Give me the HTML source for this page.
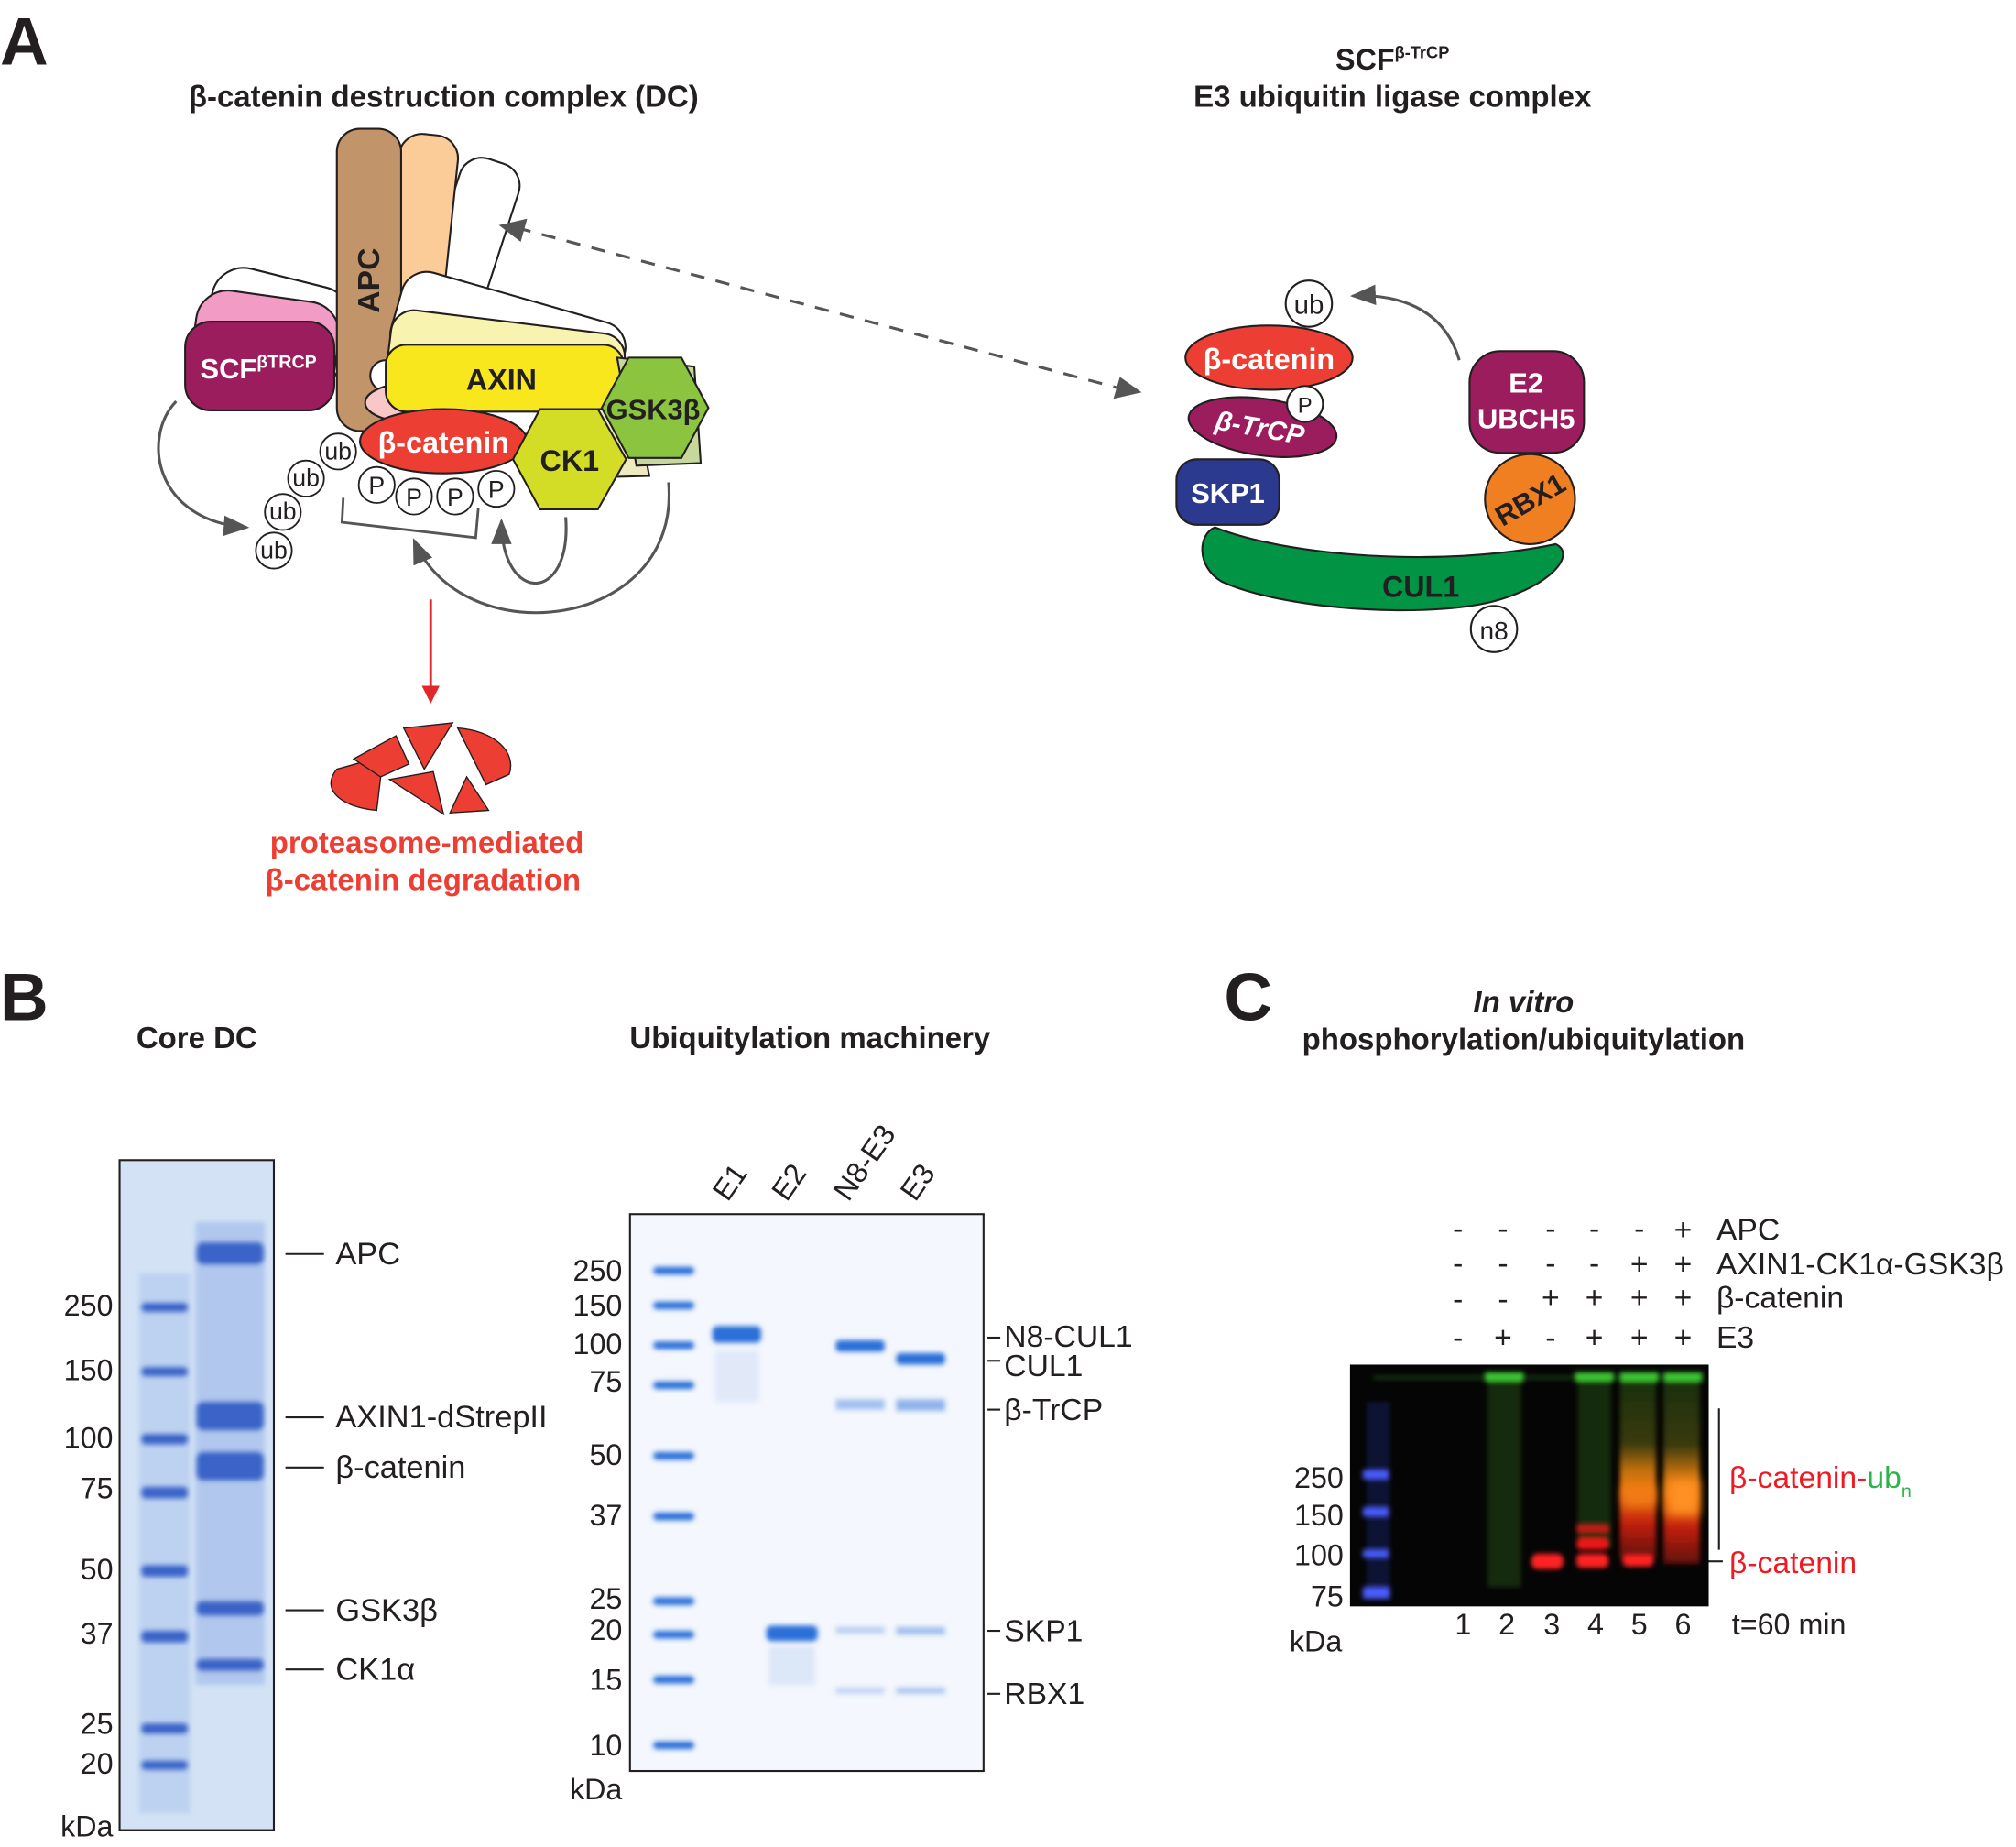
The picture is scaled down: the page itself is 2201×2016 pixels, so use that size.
<!DOCTYPE html>
<html><head><meta charset="utf-8">
<style>
html,body{margin:0;padding:0;background:#fff;}
svg{display:block;}
text{font-family:"Liberation Sans",Arial,sans-serif;}
</style></head>
<body>
<svg width="2201" height="2016" viewBox="0 0 1568 1436" xmlns="http://www.w3.org/2000/svg">
<defs>
<filter id="b1" x="-50%" y="-100%" width="200%" height="300%"><feGaussianBlur stdDeviation="1.8"/></filter>
<filter id="b2" x="-50%" y="-50%" width="200%" height="200%"><feGaussianBlur stdDeviation="4"/></filter>
<marker id="ahs" markerWidth="20" markerHeight="16" refX="18" refY="8" orient="auto" markerUnits="userSpaceOnUse"><path d="M0,0 L20,8 L0,16 z" fill="#555"/></marker>
<marker id="ahr" markerWidth="14" markerHeight="14" refX="12" refY="7" orient="auto" markerUnits="userSpaceOnUse"><path d="M0,0 L14,7 L0,14 z" fill="#e3262b"/></marker>
<linearGradient id="l5" x1="0" y1="0" x2="0" y2="1">
<stop offset="0" stop-color="#1a3010"/><stop offset="0.35" stop-color="#3a3a10"/><stop offset="0.5" stop-color="#c07010"/><stop offset="0.62" stop-color="#f07a10"/><stop offset="0.8" stop-color="#c02010"/><stop offset="1" stop-color="#601010"/></linearGradient>
</defs>
<rect width="1568" height="1436" fill="#fff"/>

<!-- ===== Panel A ===== -->
<text x="0" y="50" font-size="52" font-weight="bold" fill="#231f20">A</text>
<text x="345" y="83" font-size="23.5" font-weight="bold" text-anchor="middle" fill="#231f20">β-catenin destruction complex (DC)</text>
<text x="1083" y="54" font-size="23" font-weight="bold" text-anchor="middle" fill="#231f20">SCF<tspan font-size="13" dy="-9">β-TrCP</tspan></text>
<text x="1083" y="83" font-size="23.5" font-weight="bold" text-anchor="middle" fill="#231f20">E3 ubiquitin ligase complex</text>

<g stroke="#231f20" stroke-width="1.5">
<rect x="328" y="120" width="48" height="220" rx="18" fill="#fff" transform="rotate(18 352 230)"/>
<rect x="300" y="104" width="46" height="230" rx="18" fill="#fccc98" transform="rotate(6 323 220)"/>
<rect x="160" y="215" width="110" height="80" rx="25" fill="#fff" transform="rotate(14 215 255)"/>
<rect x="150" y="230" width="112" height="80" rx="25" fill="#f29bc4" transform="rotate(8 206 270)"/>
<rect x="262" y="100" width="50" height="235" rx="18" fill="#c19469"/>
<rect x="144" y="250" width="116" height="69" rx="20" fill="#9c1d5e"/>
<rect x="305" y="230" width="180" height="70" rx="20" fill="#fff" transform="rotate(16 395 265)"/>
<rect x="302" y="250" width="183" height="60" rx="18" fill="#f9f3b0" transform="rotate(7 393 280)"/>
<ellipse cx="300" cy="292" rx="12" ry="12" fill="#fff"/>
<ellipse cx="318" cy="313" rx="34" ry="15" fill="#f8c8c8"/>
<rect x="300" y="268" width="185" height="52" rx="16" fill="#f8e71c"/>
<polygon points="420,318 495,318 505,370 430,372" fill="#eeeac0"/>
<polygon points="480,278 540,285 545,360 495,362" fill="#c8d89a"/>
<ellipse cx="345" cy="343" rx="65" ry="25" fill="#ed3e33"/>
<polygon points="420,318 465,318 487,357 465,396 420,396 399,357" fill="#d4dd25"/>
<polygon points="489,278 530,278 551,317 530,356 489,356 468,317" fill="#8bc53f"/>
</g>
<text x="287" y="218" font-size="24" font-weight="bold" fill="#231f20" text-anchor="middle" transform="rotate(-90 287 218)" dy="8">APC</text>
<text x="201" y="294" font-size="22" font-weight="bold" fill="#fff" text-anchor="middle">SCF<tspan font-size="14" dy="-8">βTRCP</tspan></text>
<text x="390" y="303" font-size="23" font-weight="bold" fill="#231f20" text-anchor="middle">AXIN</text>
<text x="345" y="352" font-size="23" font-weight="bold" fill="#fff" text-anchor="middle">β-catenin</text>
<text x="443" y="366" font-size="23" font-weight="bold" fill="#231f20" text-anchor="middle">CK1</text>
<text x="508" y="326" font-size="22" font-weight="bold" fill="#231f20" text-anchor="middle">GSK3β</text>
<g stroke="#231f20" stroke-width="1.3" fill="#fff">
<circle cx="293" cy="377" r="14"/><circle cx="322" cy="386" r="14"/><circle cx="354" cy="386" r="14"/><circle cx="386" cy="380" r="14"/>
<circle cx="263" cy="351" r="14"/><circle cx="238" cy="372" r="14"/><circle cx="220" cy="398" r="14"/><circle cx="213" cy="428" r="14"/>
</g>
<g font-size="19" fill="#231f20" text-anchor="middle">
<text x="293" y="384">P</text><text x="322" y="393">P</text><text x="354" y="393">P</text><text x="386" y="387">P</text>
<text x="263" y="357">ub</text><text x="238" y="378">ub</text><text x="220" y="404">ub</text><text x="213" y="434">ub</text>
</g>
<path d="M267,387 L266,406 L370,418 L372,395" fill="none" stroke="#555" stroke-width="2"/>
<g fill="none" stroke="#555" stroke-width="2.2">
<path d="M137,312 C110,340 120,405 192,410" marker-end="url(#ahs)"/>
<path d="M440,402 C445,470 390,470 390,405" marker-end="url(#ahs)"/>
<path d="M520,375 C530,490 360,510 322,420" marker-end="url(#ahs)"/>
<path d="M1135,280 C1125,245 1095,228 1052,230" marker-end="url(#ahs)"/>
<path d="M402,177 L875,303" stroke-dasharray="11,9"/>
</g>
<path d="M388,175 L410,170 L405,188 z" fill="#555"/>
<path d="M888,305 L866,310 L871,293 z" fill="#555"/>
<line x1="335" y1="466" x2="335" y2="545" stroke="#e3262b" stroke-width="2" marker-end="url(#ahr)"/>
<g fill="#ed3e33" stroke="#231f20" stroke-width="1">
<path d="M262,598 L298,588 L293,630 C268,628 248,615 262,598z"/>
<path d="M275,590 L308,572 L318,594 L296,604 z"/>
<path d="M314,566 L352,562 L330,598 z"/>
<path d="M356,566 C385,568 402,585 396,602 L378,610 z"/>
<path d="M303,606 L337,600 L345,633 z"/>
<path d="M350,632 L363,604 L380,630 z"/>
</g>
<text x="332" y="663" font-size="23.5" font-weight="bold" fill="#ed3e33" text-anchor="middle">proteasome-mediated</text>
<text x="329" y="692" font-size="23.5" font-weight="bold" fill="#ed3e33" text-anchor="middle">β-catenin degradation</text>

<g stroke="#231f20" stroke-width="1.5">
<path d="M945,410 C1000,432 1120,442 1210,423 C1225,430 1210,452 1170,465 C1120,482 1000,475 950,452 C930,440 932,415 945,410z" fill="#009444"/>
<rect x="1143" y="273" width="89" height="79" rx="24" fill="#9c1d5e"/>
<circle cx="1190" cy="388" r="35" fill="#f07f22"/>
<rect x="915" y="357" width="80" height="51" rx="16" fill="#2b3a8f"/>
<ellipse cx="982" cy="332" rx="58" ry="22" fill="#9c1d5e" transform="rotate(8 982 332)"/>
<ellipse cx="987" cy="278" rx="65" ry="25" fill="#ed3e33"/>
<circle cx="1015" cy="314" r="14" fill="#fff"/>
<circle cx="1018" cy="236" r="18" fill="#fff"/>
<circle cx="1162" cy="489" r="18" fill="#fff"/>
</g>
<text x="987" y="287" font-size="23" font-weight="bold" fill="#fff" text-anchor="middle">β-catenin</text>
<text x="980" y="340" font-size="21" font-weight="bold" font-style="italic" fill="#fff" text-anchor="middle" transform="rotate(10 982 332)">β-TrCP</text>
<text x="1015" y="321" font-size="17" fill="#231f20" text-anchor="middle">P</text>
<text x="1018" y="244" font-size="21" fill="#231f20" text-anchor="middle">ub</text>
<text x="955" y="391" font-size="22" font-weight="bold" fill="#fff" text-anchor="middle">SKP1</text>
<text x="1187" y="305" font-size="22" font-weight="bold" fill="#fff" text-anchor="middle">E2</text>
<text x="1187" y="333" font-size="22" font-weight="bold" fill="#fff" text-anchor="middle">UBCH5</text>
<text x="1190" y="396" font-size="22" font-weight="bold" fill="#231f20" text-anchor="middle" transform="rotate(-30 1190 388)">RBX1</text>
<text x="1105" y="464" font-size="23" font-weight="bold" fill="#231f20" text-anchor="middle">CUL1</text>
<text x="1162" y="497" font-size="20" fill="#231f20" text-anchor="middle">n8</text>

<!-- ===== Panel B ===== -->
<text x="0" y="793" font-size="52" font-weight="bold" fill="#231f20">B</text>
<text x="153" y="815" font-size="23.5" font-weight="bold" fill="#231f20" text-anchor="middle">Core DC</text>
<text x="630" y="815" font-size="23.5" font-weight="bold" fill="#231f20" text-anchor="middle">Ubiquitylation machinery</text>

<rect x="93" y="902" width="120" height="521" fill="#d3e3f5" stroke="#231f20" stroke-width="1.5"/>
<rect x="108" y="990" width="40" height="420" fill="#b5cbee" opacity="0.7" filter="url(#b1)"/>
<rect x="152" y="950" width="54" height="360" fill="#a9c1ec" opacity="0.8" filter="url(#b1)"/>
<g fill="#3a63c8" filter="url(#b1)">
<rect x="110" y="1013" width="36" height="7" rx="3"/>
<rect x="110" y="1063" width="36" height="7" rx="3"/>
<rect x="110" y="1115" width="36" height="8" rx="3"/>
<rect x="110" y="1156" width="36" height="9" rx="3"/>
<rect x="110" y="1217" width="36" height="9" rx="3"/><rect x="110" y="1268" width="36" height="9" rx="3"/>
<rect x="110" y="1340" width="36" height="8" rx="3"/><rect x="110" y="1369" width="36" height="7" rx="3"/>
<rect x="153" y="966" width="52" height="17" rx="5"/>
<rect x="153" y="1090" width="52" height="22" rx="5"/>
<rect x="153" y="1129" width="52" height="22" rx="5"/>
<rect x="153" y="1245" width="52" height="11" rx="4"/>
<rect x="153" y="1290" width="52" height="9" rx="4"/>
</g>
<g font-size="23" fill="#231f20" text-anchor="end">
<text x="88" y="1023">250</text><text x="88" y="1073">150</text><text x="88" y="1126">100</text><text x="88" y="1165">75</text>
<text x="88" y="1228">50</text><text x="88" y="1278">37</text><text x="88" y="1348">25</text><text x="88" y="1379">20</text><text x="88" y="1428">kDa</text>
</g>
<g stroke="#231f20" stroke-width="1.5">
<line x1="222" y1="975" x2="252" y2="975"/><line x1="222" y1="1102" x2="252" y2="1102"/><line x1="222" y1="1141" x2="252" y2="1141"/>
<line x1="222" y1="1252" x2="252" y2="1252"/><line x1="222" y1="1298" x2="252" y2="1298"/>
</g>
<g font-size="24.5" fill="#231f20">
<text x="261" y="983">APC</text><text x="261" y="1110">AXIN1-dStrepII</text><text x="261" y="1149">β-catenin</text>
<text x="261" y="1260">GSK3β</text><text x="261" y="1306">CK1α</text>
</g>

<rect x="490" y="944" width="275" height="433" fill="#f4f7fd" stroke="#231f20" stroke-width="1.5"/>
<g fill="#2b6fd8" filter="url(#b1)">
<rect x="508" y="985" width="32" height="6" rx="3"/><rect x="508" y="1012" width="32" height="6" rx="3"/>
<rect x="508" y="1043" width="32" height="6" rx="3"/><rect x="508" y="1074" width="32" height="6" rx="3"/>
<rect x="508" y="1129" width="32" height="6" rx="3"/><rect x="508" y="1176" width="32" height="6" rx="3"/>
<rect x="508" y="1242" width="32" height="6" rx="3"/><rect x="508" y="1268" width="32" height="6" rx="3"/>
<rect x="508" y="1303" width="32" height="6" rx="3"/><rect x="508" y="1354" width="32" height="6" rx="3"/>
<rect x="554" y="1031" width="38" height="13" rx="4"/>
<rect x="556" y="1050" width="34" height="40" opacity="0.1"/>
<rect x="596" y="1264" width="40" height="12" rx="4"/>
<rect x="598" y="1280" width="36" height="30" opacity="0.12"/>
<rect x="650" y="1042" width="38" height="9" rx="3"/><rect x="650" y="1088" width="38" height="8" opacity="0.4"/>
<rect x="650" y="1265" width="38" height="5" opacity="0.3"/><rect x="650" y="1312" width="38" height="5" opacity="0.25"/>
<rect x="697" y="1052" width="38" height="9" rx="3"/><rect x="697" y="1088" width="38" height="9" opacity="0.5"/>
<rect x="697" y="1265" width="38" height="6" opacity="0.4"/><rect x="697" y="1312" width="38" height="5" opacity="0.35"/>
</g>
<g font-size="23" fill="#231f20" text-anchor="end">
<text x="484" y="996">250</text><text x="484" y="1023">150</text><text x="484" y="1053">100</text><text x="484" y="1082">75</text>
<text x="484" y="1139">50</text><text x="484" y="1186">37</text><text x="484" y="1251">25</text><text x="484" y="1275">20</text>
<text x="484" y="1314">15</text><text x="484" y="1365">10</text><text x="484" y="1399">kDa</text>
</g>
<g font-size="23" fill="#231f20">
<text x="566" y="935" transform="rotate(-55 566 935)">E1</text>
<text x="612" y="935" transform="rotate(-55 612 935)">E2</text>
<text x="660" y="935" transform="rotate(-55 660 935)">N8-E3</text>
<text x="712" y="935" transform="rotate(-55 712 935)">E3</text>
</g>
<g stroke="#231f20" stroke-width="1.5">
<line x1="768" y1="1040" x2="778" y2="1040"/><line x1="768" y1="1058" x2="778" y2="1058"/><line x1="768" y1="1096" x2="778" y2="1096"/>
<line x1="768" y1="1268" x2="778" y2="1268"/><line x1="768" y1="1317" x2="778" y2="1317"/>
</g>
<g font-size="24" fill="#231f20">
<text x="781" y="1047">N8-CUL1</text><text x="781" y="1070">CUL1</text><text x="781" y="1104">β-TrCP</text>
<text x="781" y="1276">SKP1</text><text x="781" y="1325">RBX1</text>
</g>

<!-- ===== Panel C ===== -->
<text x="952" y="793" font-size="52" font-weight="bold" fill="#231f20">C</text>
<text x="1185" y="787" font-size="23.5" font-weight="bold" font-style="italic" fill="#231f20" text-anchor="middle">In vitro</text>
<text x="1185" y="816" font-size="23.5" font-weight="bold" fill="#231f20" text-anchor="middle">phosphorylation/ubiquitylation</text>
<g font-size="24" fill="#231f20" text-anchor="middle">
<text x="1134" y="963">-</text><text x="1169" y="963">-</text><text x="1206" y="963">-</text><text x="1240" y="963">-</text><text x="1275" y="963">-</text><text x="1309" y="964">+</text>
<text x="1134" y="990">-</text><text x="1169" y="990">-</text><text x="1206" y="990">-</text><text x="1240" y="990">-</text><text x="1275" y="991">+</text><text x="1309" y="991">+</text>
<text x="1134" y="1018">-</text><text x="1169" y="1018">-</text><text x="1206" y="1017">+</text><text x="1240" y="1017">+</text><text x="1275" y="1017">+</text><text x="1309" y="1017">+</text>
<text x="1134" y="1048">-</text><text x="1169" y="1048">+</text><text x="1206" y="1048">-</text><text x="1240" y="1048">+</text><text x="1275" y="1048">+</text><text x="1309" y="1048">+</text>
</g>
<g font-size="24" fill="#231f20">
<text x="1335" y="964">APC</text><text x="1335" y="991">AXIN1-CK1α-GSK3β</text>
<text x="1335" y="1017">β-catenin</text><text x="1335" y="1048">E3</text>
</g>
<rect x="1050" y="1061" width="279" height="188" fill="#050505"/>
<g filter="url(#b1)">
<rect x="1068" y="1070" width="255" height="2" fill="#2a7a20" opacity="0.6"/>
<rect x="1155" y="1067" width="30" height="7" fill="#3ec830"/>
<rect x="1157" y="1074" width="26" height="160" fill="#16320f" opacity="0.8"/>
<rect x="1225" y="1067" width="30" height="7" fill="#3ec830"/>
<rect x="1227" y="1074" width="26" height="130" fill="#16320f" opacity="0.8"/>
<rect x="1260" y="1067" width="30" height="7" fill="#3ec830"/>
<rect x="1294" y="1067" width="30" height="7" fill="#3ec830"/>
<rect x="1063" y="1090" width="18" height="150" fill="#1a2260" opacity="0.5"/>
<rect x="1060" y="1143" width="20" height="7" fill="#4a5cff"/>
<rect x="1060" y="1172" width="20" height="7" fill="#4a5cff"/>
<rect x="1060" y="1205" width="20" height="6" fill="#4a5cff"/>
<rect x="1060" y="1234" width="21" height="9" fill="#4a5cff"/>
<rect x="1191" y="1208" width="25" height="12" rx="5" fill="#ff2020"/>
<rect x="1226" y="1208" width="25" height="11" rx="4" fill="#ff2020"/>
<rect x="1226" y="1196" width="25" height="9" rx="4" fill="#ee1818"/>
<rect x="1226" y="1186" width="25" height="5" fill="#d01818"/>
<rect x="1260" y="1074" width="28" height="138" fill="url(#l5)"/>
<rect x="1294" y="1074" width="28" height="142" fill="url(#l5)"/>
<rect x="1262" y="1209" width="24" height="9" rx="4" fill="#ff2020"/>
</g>
<rect x="1263" y="1155" width="24" height="16" fill="#f07a18" filter="url(#b2)"/>
<rect x="1297" y="1150" width="24" height="28" fill="#ff9020" filter="url(#b2)"/>
<line x1="1337" y1="1095" x2="1337" y2="1205" stroke="#231f20" stroke-width="1.5"/>
<line x1="1329" y1="1214" x2="1340" y2="1214" stroke="#231f20" stroke-width="1.5"/>
<text x="1345" y="1157" font-size="24" fill="#ed1c24">β-catenin-<tspan fill="#2db34a">ub</tspan><tspan fill="#2db34a" font-size="14" dy="7">n</tspan></text>
<text x="1345" y="1223" font-size="24" fill="#ed1c24">β-catenin</text>
<g font-size="23" fill="#231f20" text-anchor="end">
<text x="1045" y="1157">250</text><text x="1045" y="1186">150</text><text x="1045" y="1217">100</text><text x="1045" y="1249">75</text>
</g>
<text x="1003" y="1284" font-size="23" fill="#231f20">kDa</text>
<g font-size="23" fill="#231f20" text-anchor="middle">
<text x="1138" y="1271">1</text><text x="1172" y="1271">2</text><text x="1207" y="1271">3</text>
<text x="1241" y="1271">4</text><text x="1275" y="1271">5</text><text x="1309" y="1271">6</text>
</g>
<text x="1347" y="1271" font-size="23" fill="#231f20">t=60 min</text>
</svg>
</body></html>
